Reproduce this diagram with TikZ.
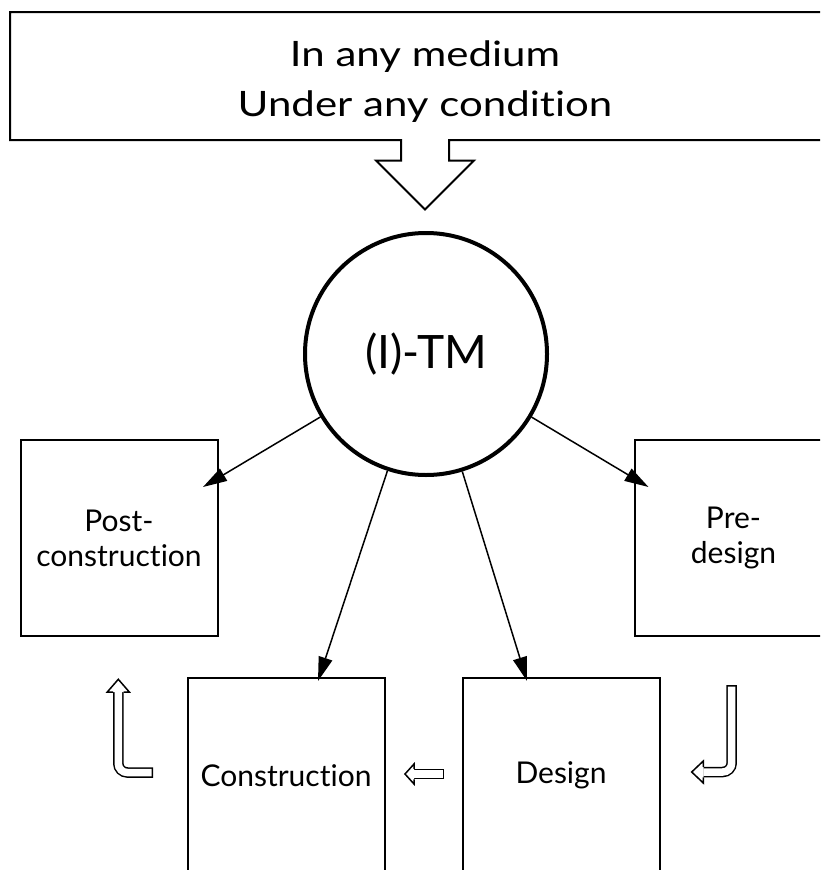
\documentclass[tikz,border=0pt]{standalone}
\usepackage{fontspec}
\setmainfont{Lato}[Ligatures={NoCommon,NoRare}]
\usepackage{graphicx}
\usetikzlibrary{arrows.meta}

\begin{document}
\begin{tikzpicture}[x=1pt,y=-1pt,
  stagebox/.style={draw, line width=2pt, minimum width=197pt, minimum height=196pt,
    inner sep=0pt, align=center, font=\fontsize{30}{35}\selectfont},
  spoke/.style={line width=1.5pt, -{Triangle[length=24pt,width=14pt]}},
  shaftout/.style={line width=10.5pt, rounded corners=9pt},
  shaftin/.style={white, line width=7.5pt, rounded corners=9pt, shorten <=1.5pt},
  headshape/.style={fill=white, draw=black, line width=1.5pt, line join=miter}
]
\useasboundingbox (0,0) rectangle (820,870);
\clip (0,0) rectangle (820,870);

% banner with its downward hollow arrow
\coordinate (bannerTip) at (425,209.5);
\draw[line width=2pt, line join=miter]
  (840,12) -- (10,12) -- (10,140) -- (401,140) -- (401,160.5) -- (376,160.5)
  -- (bannerTip) -- (474,160.5) -- (449,160.5) -- (449,140) -- (840,140);
\node[inner sep=0pt, font=\fontsize{35}{50}\selectfont] (banner) at (425,81.7)
  {\scalebox{1.2}[1]{\begin{tabular}{@{}c@{}}In any medium\\Under any condition\end{tabular}}};

% central circle
\node[circle, draw, line width=4pt, minimum size=242pt, inner sep=0pt,
  font=\fontsize{46}{50}\selectfont] (tm) at (426,354) {(I)-TM};

% stages
\node[stagebox] (post) at (119,538) {Post-\\construction};
\node[stagebox] (pre)  at (733.5,538) {Pre-\\design};
\node[stagebox] (cons) at (286,775.5) {Construction};
\node[stagebox] (des)  at (561,775.5) {Design};

% spokes from the circle
\coordinate (postTip) at (203,487);
\coordinate (preTip)  at (648.5,487);
\coordinate (consTip) at (318,681);
\coordinate (desTip)  at (527,681);
\draw[spoke] (tm) -- (postTip);
\draw[spoke] (tm) -- (preTip);
\draw[spoke] (tm) -- (consTip);
\draw[spoke] (tm) -- (desTip);

% hollow cycle arrows: Pre-design -> Design
\coordinate (rA) at (731.7,685);
\coordinate (rB) at (731.7,772);
\coordinate (rC) at (703.3,772);
\draw[shaftout] (rA) -- (rB) -- (rC);
\draw[shaftin]  (rA) -- (rB) -- (rC);
\filldraw[headshape] (703.3,766.75) -- (703.3,761) -- (691.7,772) -- (703.3,783) -- (703.3,777.25);

% Design -> Construction
\coordinate (mA) at (444,774);
\coordinate (mB) at (414,774);
\draw[shaftout] (mA) -- (mB);
\draw[shaftin]  (mA) -- (mB);
\filldraw[headshape] (414,768.75) -- (414,764) -- (405,774) -- (414,784) -- (414,779.25);

% Construction -> Post-construction
\coordinate (lA) at (153,772.5);
\coordinate (lB) at (118.3,772.5);
\coordinate (lC) at (118.3,692);
\draw[shaftout] (lA) -- (lB) -- (lC);
\draw[shaftin]  (lA) -- (lB) -- (lC);
\filldraw[headshape] (113.05,692) -- (107.3,692) -- (118.3,679.3) -- (129.3,692) -- (123.55,692);
\end{tikzpicture}
\end{document}
